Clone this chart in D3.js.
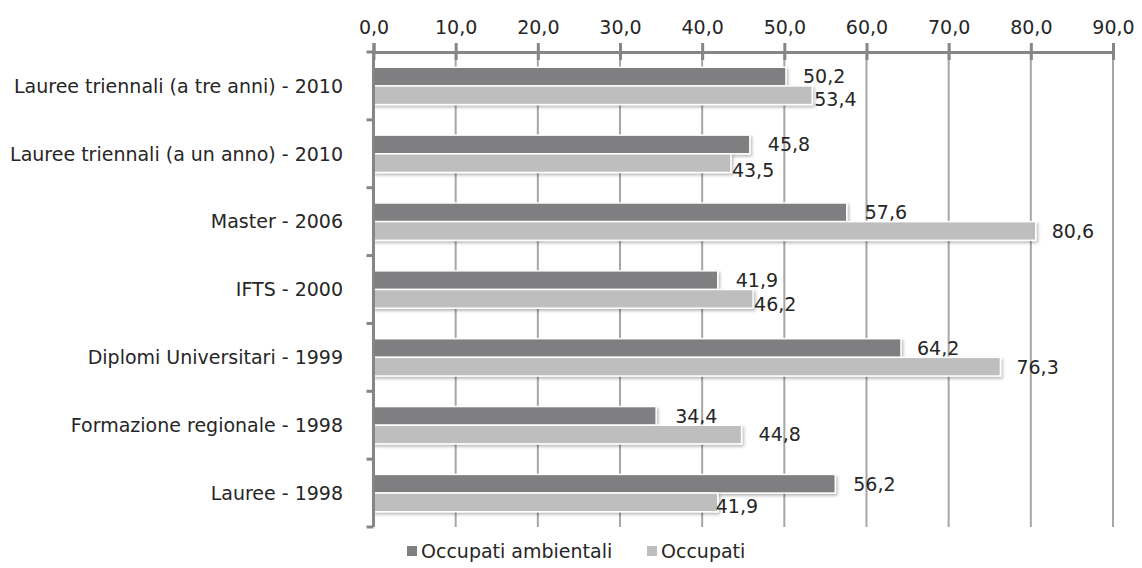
<!DOCTYPE html>
<html>
<head>
<meta charset="utf-8">
<script src="https://cdn.jsdelivr.net/npm/d3@7"></script>
<style>
    body { margin: 0; background: #ffffff; }
    svg text { font-family: "DejaVu Sans", sans-serif; fill: #262626; }
</style>
</head>
<body>
<div id="chart"></div>
<script>
// dati del grafico
var categories = [
    "Lauree triennali (a tre anni) - 2010",
    "Lauree triennali (a un anno) - 2010",
    "Master - 2006",
    "IFTS - 2000",
    "Diplomi Universitari - 1999",
    "Formazione regionale - 1998",
    "Lauree - 1998"
];
var seriesNames = ["Occupati ambientali", "Occupati"];
var occupatiAmbientali = [50.2, 45.8, 57.6, 41.9, 64.2, 34.4, 56.2];
var occupati = [53.4, 43.5, 80.6, 46.2, 76.3, 44.8, 41.9];
var xTicks = [0, 10, 20, 30, 40, 50, 60, 70, 80, 90];

// spostamenti manuali delle etichette (come nel file originale), [dx, dy]
var labelShift = [
    [[17, 0], [18, 0], [18, 0], [18, 0], [16, 0], [19, 0], [18, 0]],
    [[2, 4], [1, 7], [16, 0], [1, 5], [16, 0], [17, 0], [-2, 4]]
];

var W = 1142, H = 568;
var colors = ["#7f7f82", "#bebebe"];
var fs = 19;
var fmt = function (v) { return d3.format(".1f")(v).replace(".", ","); };

var svg = d3.select("#chart").append("svg")
    .attr("width", W)
    .attr("height", H);

var defs = svg.append("defs");
defs.append("filter")
    .attr("id", "shadow")
    .attr("x", "-5%").attr("y", "-30%")
    .attr("width", "110%").attr("height", "180%")
    .append("feDropShadow")
    .attr("dx", 1.5).attr("dy", 2)
    .attr("stdDeviation", 1.5)
    .attr("flood-color", "#000")
    .attr("flood-opacity", 0.28);

var x = d3.scaleLinear().domain([0, 90]).range([373.5, 1113]);
var y = d3.scaleBand().domain(categories).range([52, 527])
    .paddingInner(0.45).paddingOuter(0.225);
var ySub = d3.scaleBand().domain(seriesNames).range([0, y.bandwidth()]);

// griglia verticale
svg.append("g")
    .selectAll("line")
    .data(xTicks.slice(1))
    .enter().append("line")
    .attr("x1", function (d) { return x(d); })
    .attr("x2", function (d) { return x(d); })
    .attr("y1", 52).attr("y2", 527)
    .attr("stroke", "#a6a6a6")
    .attr("stroke-width", 2);

// asse superiore
var xAxis = svg.append("g")
    .attr("transform", "translate(0,52)")
    .call(d3.axisTop(x).tickValues(xTicks).tickFormat(fmt).tickSize(9).tickPadding(9));
xAxis.select(".domain").attr("stroke", "#868686").attr("stroke-width", 3);
xAxis.selectAll(".tick line").attr("stroke", "#868686").attr("stroke-width", 3).attr("y2", -9);
xAxis.selectAll(".tick").append("line")
    .attr("y1", 0).attr("y2", 8)
    .attr("stroke", "#868686").attr("stroke-width", 3);
xAxis.selectAll(".tick text")
    .attr("font-family", "DejaVu Sans")
    .attr("font-size", 19)
    .attr("fill", "#262626");

// barre
var data = [occupatiAmbientali, occupati];
var groups = svg.append("g").selectAll("g")
    .data(seriesNames)
    .enter().append("g")
    .attr("fill", function (d, i) { return colors[i]; });

groups.selectAll("rect")
    .data(function (s, si) {
        return data[si].map(function (v, ci) { return { s: s, si: si, c: categories[ci], ci: ci, v: v }; });
    })
    .enter().append("rect")
    .attr("x", x(0))
    .attr("y", function (d) { return y(d.c) + ySub(d.s); })
    .attr("width", function (d) { return x(d.v) - x(0); })
    .attr("height", ySub.bandwidth())
    .attr("stroke", "#ffffff")
    .attr("stroke-width", 1.5)
    .attr("filter", "url(#shadow)");

// etichette valori
groups.selectAll("text")
    .data(function (s, si) {
        return data[si].map(function (v, ci) { return { s: s, si: si, c: categories[ci], ci: ci, v: v }; });
    })
    .enter().append("text")
    .attr("x", function (d) { return x(d.v) + labelShift[d.si][d.ci][0]; })
    .attr("y", function (d) { return y(d.c) + ySub(d.s) + ySub.bandwidth() / 2 + labelShift[d.si][d.ci][1]; })
    .attr("dy", "0.36em")
    .attr("font-size", fs)
    .style("fill", "#262626")
    .text(function (d) { return fmt(d.v); });

// asse sinistro
var yEdges = y.domain().map(function (c) { return y(c) - y.step() * y.paddingInner() / 2; });
yEdges[0] = 52;
yEdges.push(527);
var left = svg.append("g");
left.append("line")
    .attr("x1", x(0)).attr("x2", x(0))
    .attr("y1", 52).attr("y2", 527)
    .attr("stroke", "#868686").attr("stroke-width", 3);
left.selectAll("line.tk")
    .data(yEdges)
    .enter().append("line")
    .attr("class", "tk")
    .attr("x1", x(0) - 7).attr("x2", x(0))
    .attr("y1", function (d) { return d; })
    .attr("y2", function (d) { return d; })
    .attr("stroke", "#868686").attr("stroke-width", 3);
left.selectAll("text")
    .data(categories)
    .enter().append("text")
    .attr("x", 343)
    .attr("y", function (d) { return y(d) + y.bandwidth() / 2; })
    .attr("dy", "0.36em")
    .attr("text-anchor", "end")
    .attr("font-size", fs)
    .text(function (d) { return d; });

// legenda
var legendX = [407, 647];
var legend = svg.append("g").selectAll("g")
    .data(seriesNames)
    .enter().append("g")
    .attr("transform", function (d, i) { return "translate(" + legendX[i] + ",551)"; });
legend.append("rect")
    .attr("x", 0).attr("y", -5)
    .attr("width", 10).attr("height", 10)
    .attr("fill", function (d, i) { return colors[i]; });
legend.append("text")
    .attr("x", 14).attr("dy", "0.36em")
    .attr("font-size", fs)
    .text(function (d) { return d; });
</script>
</body>
</html>
